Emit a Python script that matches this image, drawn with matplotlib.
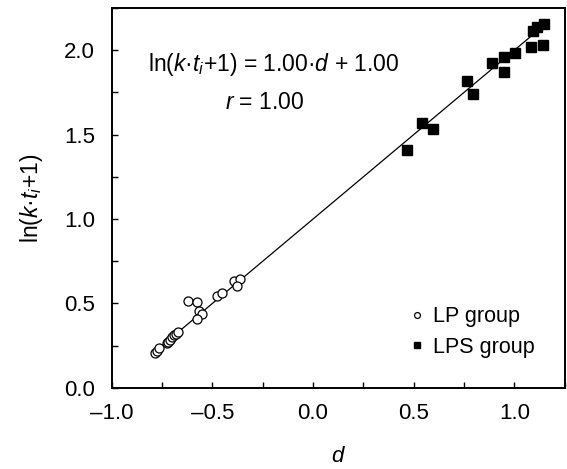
import matplotlib
matplotlib.use("Agg")
import matplotlib.pyplot as plt
from matplotlib.ticker import MultipleLocator, FuncFormatter
import numpy as np

plt.rcParams['font.family'] = ['Liberation Sans', 'DejaVu Sans']
plt.rcParams['mathtext.fontset'] = 'custom'
plt.rcParams['mathtext.rm'] = 'Liberation Sans'
plt.rcParams['mathtext.it'] = 'Liberation Sans:italic'

# LP group (open circles)
lp_d = [-0.785, -0.777, -0.764, -0.727, -0.719, -0.710, -0.702, -0.690, -0.680, -0.669,
        -0.619, -0.575, -0.565, -0.553, -0.575, -0.475, -0.451, -0.391, -0.363, -0.376]
lp_y = [0.209, 0.219, 0.235, 0.264, 0.274, 0.284, 0.304, 0.314, 0.320, 0.331,
        0.517, 0.511, 0.457, 0.438, 0.406, 0.546, 0.560, 0.635, 0.643, 0.605]

# LPS group (filled squares)
lps_d = [0.465, 0.543, 0.595, 0.767, 0.796, 0.891, 0.949, 0.950, 1.003,
         1.083, 1.141, 1.091, 1.114, 1.149]
lps_y = [1.408, 1.566, 1.536, 1.818, 1.743, 1.926, 1.872, 1.962, 1.986,
         2.020, 2.033, 2.114, 2.138, 2.154]

slope = 1.00
intercept = 1.00
fit_range = [-0.79, 1.16]

fig = plt.figure(figsize=(5.67, 4.69), dpi=100)
ax = fig.add_axes([0.197, 0.173, 0.799, 0.810])

xs = np.array(fit_range)
ax.plot(xs, slope * xs + intercept, color='black', lw=0.9, zorder=1)
ax.plot(lp_d, lp_y, 'o', ms=6.5, mfc='white', mec='black', mew=0.9,
        ls='none', label='LP group', zorder=2)
ax.plot(lps_d, lps_y, 's', ms=7, mfc='black', mec='black',
        ls='none', label='LPS group', zorder=3)

ax.set_xlim(-1.0, 1.25)
ax.set_ylim(0, 2.25)
ax.xaxis.set_major_locator(MultipleLocator(0.5))
ax.xaxis.set_minor_locator(MultipleLocator(0.25))
ax.yaxis.set_major_locator(MultipleLocator(0.5))
ax.yaxis.set_minor_locator(MultipleLocator(0.25))
fmt = FuncFormatter(lambda v, p: f'{v:.1f}'.replace('-', '\u2013'))
ax.xaxis.set_major_formatter(fmt)
ax.yaxis.set_major_formatter(fmt)
ax.tick_params(which='both', direction='in', length=4, width=1, labelsize=16,
               top=False, right=False)
ax.tick_params(axis='x', pad=11)
ax.tick_params(axis='y', pad=12)
for s in ax.spines.values():
    s.set_linewidth(1.4)

ax.set_xlabel('$d$', fontsize=16, labelpad=16)
ax.set_ylabel('ln($k$·$t_i$+1)', fontsize=16.5, labelpad=14)

ax.text(0.08, 0.85, 'ln($k$·$t_i$+1) = 1.00·$d$ + 1.00', transform=ax.transAxes,
        fontsize=16.5, ha='left', va='center')
ax.text(0.25, 0.75, '$r$ = 1.00', transform=ax.transAxes,
        fontsize=16.5, ha='left', va='center')

leg = ax.legend(loc='lower right', frameon=False, fontsize=15.5, handletextpad=0.3,
                markerscale=0.65, handlelength=0.9, borderaxespad=1.0,
                labelspacing=0.45, borderpad=0.4)

fig.savefig('out.png', dpi=100)
